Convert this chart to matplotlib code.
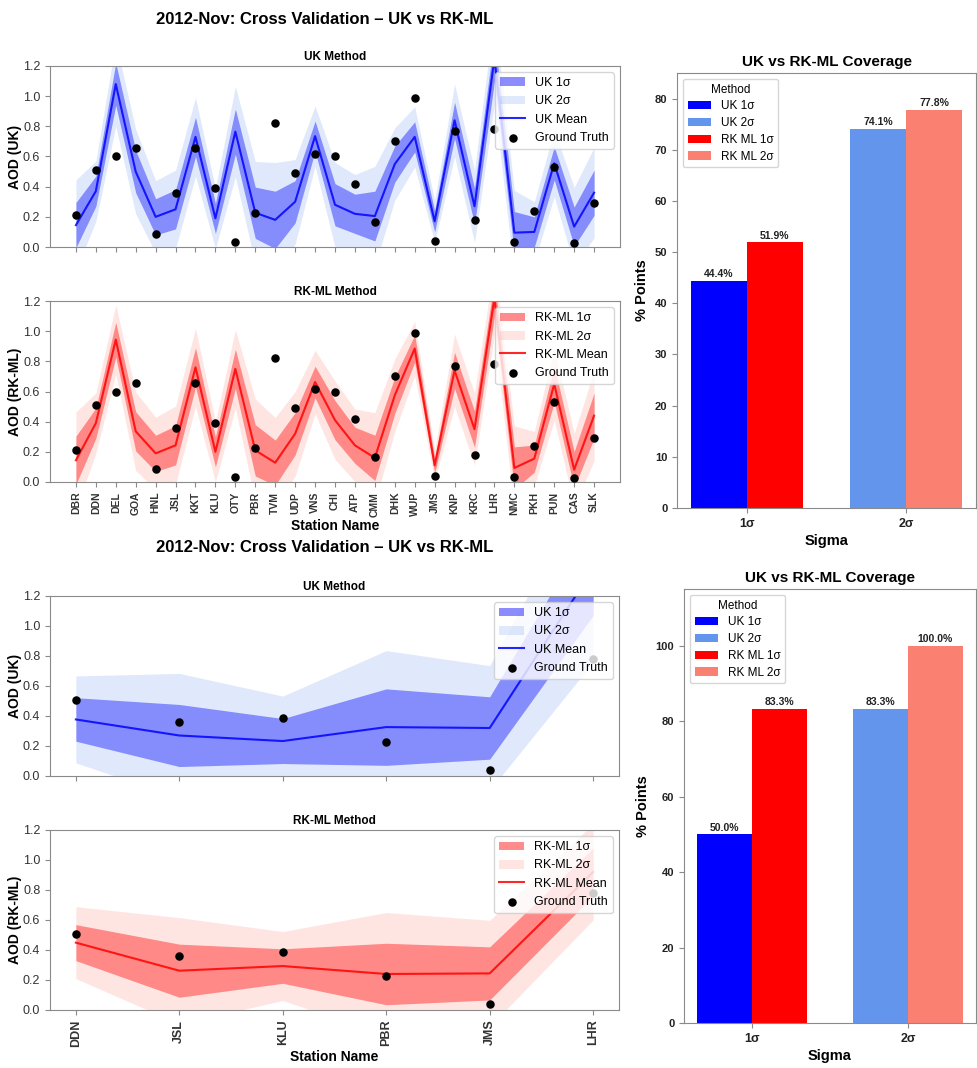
"""Cross validation of AOD: UK vs RK-ML bands and coverage bars (2012-Nov)."""

import matplotlib.pyplot as plt
import numpy as np

# ---- data: full station set (top figure) ----
STATIONS_ALL = ["DBR", "DDN", "DEL", "GOA", "HNL", "JSL", "KKT", "KLU", "OTY",
                "PBR", "TVM", "UDP", "VNS", "CHI", "ATP", "CMM", "DHK", "WUP",
                "JMS", "KNP", "KRC", "LHR", "NMC", "PKH", "PUN", "CAS", "SLK"]
truth_all = [0.21, 0.51, 0.60, 0.655, 0.084, 0.36, 0.655, 0.39, 0.035,
             0.227, 0.824, 0.489, 0.617, 0.60, 0.42, 0.166, 0.70, 0.99,
             0.042, 0.77, 0.18, 0.78, 0.03, 0.24, 0.53, 0.025, 0.29]
uk_mean_all = [0.145, 0.37, 1.08, 0.50, 0.20, 0.25, 0.73, 0.19, 0.765,
               0.227, 0.18, 0.30, 0.735, 0.28, 0.22, 0.205, 0.55, 0.73,
               0.17, 0.84, 0.27, 1.25, 0.095, 0.10, 0.555, 0.135, 0.36]
uk_std_all = [0.15, 0.10, 0.14, 0.14, 0.12, 0.13, 0.13, 0.10, 0.15,
              0.17, 0.19, 0.14, 0.10, 0.14, 0.13, 0.165, 0.12, 0.10,
              0.07, 0.12, 0.12, 0.15, 0.14, 0.10, 0.11, 0.13, 0.15]
rk_mean_all = [0.144, 0.39, 0.944, 0.336, 0.19, 0.243, 0.76, 0.20, 0.75,
               0.21, 0.128, 0.32, 0.663, 0.41, 0.243, 0.16, 0.575, 0.885,
               0.11, 0.74, 0.35, 1.22, 0.093, 0.155, 0.65, 0.082, 0.44]
rk_std_all = [0.16, 0.10, 0.115, 0.13, 0.12, 0.13, 0.13, 0.10, 0.13,
              0.17, 0.15, 0.14, 0.105, 0.13, 0.12, 0.15, 0.12, 0.09,
              0.05, 0.12, 0.12, 0.12, 0.14, 0.09, 0.12, 0.12, 0.15]

# ---- data: station subset (bottom figure) ----
STATIONS_SUB = ["DDN", "JSL", "KLU", "PBR", "JMS", "LHR"]
truth_sub = [0.51, 0.36, 0.39, 0.227, 0.042, 0.78]
uk_mean_sub = [0.377, 0.27, 0.233, 0.326, 0.32, 1.38]
uk_std_sub = [0.145, 0.207, 0.15, 0.255, 0.208, 0.31]
rk_mean_sub = [0.449, 0.262, 0.293, 0.24, 0.244, 0.92]
rk_std_sub = [0.12, 0.177, 0.115, 0.205, 0.177, 0.16]

# ---- coverage (% points inside band) ----
SIGMAS = ["1σ", "2σ"]
cov_uk_all = [44.4, 74.1]
cov_rk_all = [51.9, 77.8]
cov_uk_sub = [50.0, 83.3]
cov_rk_sub = [83.3, 100.0]

TITLE = "2012-Nov: Cross Validation – UK vs RK-ML"
W, H = 977, 1068
SPINE = "#8a8a8a"


def _configure_matplotlib():
    plt.rcParams.update({
        "font.family": ["Liberation Sans", "DejaVu Sans"],
        "axes.edgecolor": SPINE,
        "xtick.color": SPINE,
        "ytick.color": SPINE,
        "xtick.labelcolor": "#333333",
        "ytick.labelcolor": "#333333",
        "legend.fontsize": 9,
    })


def _box(fig, left, top, right, bottom):
    # pixel box -> figure axes
    return fig.add_axes([left / W, 1 - bottom / H, (right - left) / W, (bottom - top) / H])


def _band_panel(ax, stations, mean, std, truth, *, name, col1, col2, line,
                ylabel, show_labels, tick_fs):
    x = np.arange(len(stations))
    mean = np.asarray(mean)
    std = np.asarray(std)
    h1 = ax.fill_between(x, mean - std, mean + std, color=col1, alpha=0.45,
                         linewidth=0, label=f"{name} 1σ")
    h2 = ax.fill_between(x, mean - 2 * std, mean + 2 * std, color=col2, alpha=0.2,
                         linewidth=0, label=f"{name} 2σ")
    h3, = ax.plot(x, mean, color=line, linewidth=1.5, alpha=0.85, label=f"{name} Mean")
    h4 = ax.scatter(x, truth, s=26, color="black", zorder=4, label="Ground Truth")
    ax.set_ylim(0, 1.2)
    ax.set_yticks(np.arange(0, 1.21, 0.2))
    ax.set_xticks(x)
    ax.tick_params(axis="y", labelsize=9)
    if show_labels:
        ax.set_xticklabels(stations, rotation=90, fontweight="bold", fontsize=tick_fs)
        ax.set_xlabel("Station Name", fontsize=10, fontweight="bold", labelpad=2)
    else:
        ax.set_xticklabels([])
    ax.set_ylabel(ylabel, fontsize=10, fontweight="bold", labelpad=1)
    ax.set_title(f"{name} Method", fontsize=8.5, fontweight="bold", pad=4)
    ax.legend(handles=[h1, h2, h3, h4], loc="upper right", fontsize=9)


def _coverage_panel(ax, uk, rk, ymax, step):
    x = np.arange(len(SIGMAS))
    w = 0.35
    colors_uk = ["blue", "cornflowerblue"]
    colors_rk = ["red", "salmon"]
    handles = []
    for i in range(len(SIGMAS)):
        b_uk = ax.bar(x[i] - w / 2, uk[i], w, color=colors_uk[i], label=f"UK {SIGMAS[i]}")
        b_rk = ax.bar(x[i] + w / 2, rk[i], w, color=colors_rk[i], label=f"RK ML {SIGMAS[i]}")
        handles.append((b_uk, b_rk))
        for bars in (b_uk, b_rk):
            ax.bar_label(bars, fmt="%.1f%%", fontsize=7.5, fontweight="bold",
                         color="#222222", padding=1)
    order = [handles[0][0], handles[1][0], handles[0][1], handles[1][1]]
    ax.legend(handles=order, title="Method", loc="upper left", fontsize=8.5,
              title_fontsize=8.5, labelspacing=0.4)
    ax.set_xticks(x)
    ax.set_xticklabels(SIGMAS, fontsize=9, fontweight="bold")
    ax.set_ylim(0, ymax)
    ax.set_yticks(np.arange(0, ymax, step))
    for lab in ax.get_yticklabels():
        lab.set_fontweight("bold")
        lab.set_fontsize(8)
    ax.tick_params(labelcolor="#222222")
    ax.set_xlabel("Sigma", fontsize=10.5, fontweight="bold", labelpad=3)
    ax.set_ylabel("% Points", fontsize=10.5, fontweight="bold")
    ax.set_title("UK vs RK-ML Coverage", fontsize=11, fontweight="bold", pad=5)


def main():
    _configure_matplotlib()
    fig = plt.figure(figsize=(W / 100, H / 100), dpi=100)

    # top figure: all stations
    fig.text(325 / W, 1 - 20 / H, TITLE, ha="center", va="center",
             fontsize=12, fontweight="bold")
    ax = _box(fig, 50, 66, 620, 247)
    _band_panel(ax, STATIONS_ALL, uk_mean_all, uk_std_all, truth_all, name="UK",
                col1="blue", col2="cornflowerblue", line="blue",
                ylabel="AOD (UK)", show_labels=False, tick_fs=7.5)
    ax = _box(fig, 50, 301, 620, 482)
    _band_panel(ax, STATIONS_ALL, rk_mean_all, rk_std_all, truth_all, name="RK-ML",
                col1="red", col2="salmon", line="red",
                ylabel="AOD (RK-ML)", show_labels=True, tick_fs=7.5)
    ax = _box(fig, 677, 73, 976, 508)
    _coverage_panel(ax, cov_uk_all, cov_rk_all, 85, 10)

    # bottom figure: station subset
    fig.text(325 / W, 1 - 547 / H, TITLE, ha="center", va="center",
             fontsize=12, fontweight="bold")
    ax = _box(fig, 50, 596, 619, 776)
    _band_panel(ax, STATIONS_SUB, uk_mean_sub, uk_std_sub, truth_sub, name="UK",
                col1="blue", col2="cornflowerblue", line="blue",
                ylabel="AOD (UK)", show_labels=False, tick_fs=9)
    ax = _box(fig, 50, 830, 619, 1010)
    _band_panel(ax, STATIONS_SUB, rk_mean_sub, rk_std_sub, truth_sub, name="RK-ML",
                col1="red", col2="salmon", line="red",
                ylabel="AOD (RK-ML)", show_labels=True, tick_fs=9)
    ax = _box(fig, 684, 589, 976, 1023)
    _coverage_panel(ax, cov_uk_sub, cov_rk_sub, 115, 20)

    fig.savefig("out.png", dpi=100, facecolor="white")
    plt.close(fig)


if __name__ == "__main__":
    main()
